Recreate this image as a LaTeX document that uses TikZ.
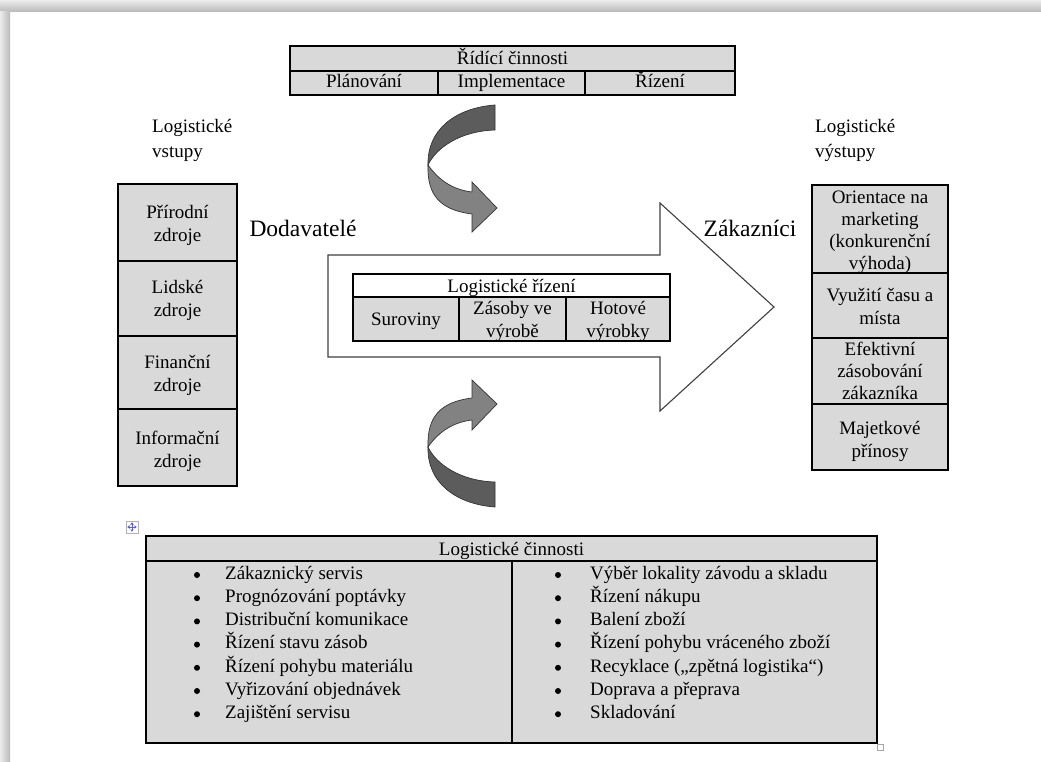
\documentclass[tikz,border=0pt]{standalone}
\usepackage{fontspec}
\setmainfont{Liberation Serif}
\newcommand\myfs{\fontsize{19}{23}\selectfont}
\newcommand\tightfs{\fontsize{19}{22}\selectfont}
\newcommand\bigfs{\fontsize{23.5}{28}\selectfont}
\definecolor{cellgray}{HTML}{D9D9D9}
\definecolor{darkband}{HTML}{5C5C5C}
\definecolor{midband}{HTML}{828282}
\begin{document}
\begin{tikzpicture}[x=1pt,y=-1pt,
  cell/.style={draw=black, line width=1.1pt, fill=cellgray, inner sep=0pt},
  wcell/.style={cell, fill=white},
  ctext/.style={inner sep=0pt, align=center, font=\myfs,
    execute at begin node=\strut, execute at end node=\strut},
  lbl/.style={inner sep=0pt, font=\fontsize{19}{25}\selectfont, align=left, anchor=north west},
  big/.style={inner sep=0pt, font=\bigfs},
  itm/.style={inner sep=0pt, font=\myfs, anchor=mid west},
  dot/.style={circle, fill=black, inner sep=0pt, minimum size=6pt},
  ribbon/.style={draw=black!80, line width=0.7pt}]

\useasboundingbox (0,0) rectangle (1041,762);
\fill[white] (0,0) rectangle (1041,762);
\shade[top color=gray!15, bottom color=gray!55] (0,0) rectangle (1041,12);
\shade[left color=gray!15, right color=gray!55] (0,12) rectangle (10,762);

% top table
\node[cell, minimum width=445pt, minimum height=25pt] (rc) at (512.5,58.5) {};
\node[cell, minimum width=148pt, minimum height=24pt] (rc1) at (364,83) {};
\node[cell, minimum width=147pt, minimum height=24pt] (rc2) at (511.5,83) {};
\node[cell, minimum width=150pt, minimum height=24pt] (rc3) at (660,83) {};
\node[ctext] (rct) at ([yshift=-1pt]rc.center) {Řídící činnosti};
\node[ctext] (rc1t) at (rc1.center) {Plánování};
\node[ctext] (rc2t) at (rc2.center) {Implementace};
\node[ctext] (rc3t) at (rc3.center) {Řízení};

% left labels and column
\node[lbl] (lv) at (152,119) {Logistické\\vstupy};
\node[cell, minimum width=119pt, minimum height=77pt] (z1) at (177.5,222.5) {};
\node[cell, minimum width=119pt, minimum height=75pt] (z2) at (177.5,298.5) {};
\node[cell, minimum width=119pt, minimum height=73pt] (z3) at (177.5,372.5) {};
\node[cell, minimum width=119pt, minimum height=77pt] (z4) at (177.5,447.5) {};
\node[ctext] (z1t) at ([yshift=-4.5pt]z1.center) {Přírodní\\zdroje};
\node[ctext] (z2t) at ([yshift=-3.5pt]z2.center) {Lidské\\zdroje};
\node[ctext] (z3t) at ([yshift=-4pt]z3.center) {Finanční\\zdroje};
\node[ctext] (z4t) at ([yshift=-5pt]z4.center) {Informační\\zdroje};

% right labels and column
\node[lbl] (lo) at (815,119) {Logistické\\výstupy};
\node[cell, minimum width=136pt, minimum height=88pt] (o1) at (880,229) {};
\node[cell, minimum width=136pt, minimum height=65pt] (o2) at (880,305.5) {};
\node[cell, minimum width=136pt, minimum height=66pt] (o3) at (880,371) {};
\node[cell, minimum width=136pt, minimum height=66pt] (o4) at (880,437) {};
\node[ctext, font=\tightfs] (o1t) at ([yshift=-5pt]o1.center) {Orientace na\\marketing\\(konkurenční\\výhoda)};
\node[ctext] (o2t) at ([yshift=-4.5pt]o2.center) {Využití času a\\místa};
\node[ctext, font=\tightfs] (o3t) at ([yshift=-3pt]o3.center) {Efektivní\\zásobování\\zákazníka};
\node[ctext] (o4t) at ([yshift=-6pt]o4.center) {Majetkové\\přínosy};

% big arrow
\draw[draw=black!75, line width=1.1pt, fill=white]
  (328,255) -- (660,255) -- (660,203) -- (774,307) -- (660,411) -- (660,357) -- (328,357) -- cycle;
\node[big] (dod) at (303,228) {Dodavatelé};
\node[big] (zak) at (750,228) {Zákazníci};

% middle table
\node[wcell, minimum width=317pt, minimum height=23pt] (lr) at (511.5,285.5) {};
\node[cell, minimum width=106pt, minimum height=44pt] (lr1) at (406,319) {};
\node[cell, minimum width=107pt, minimum height=44pt] (lr2) at (512.5,319) {};
\node[cell, minimum width=104pt, minimum height=44pt] (lr3) at (618,319) {};
\node[ctext] (lrt) at ([yshift=-2pt]lr.center) {Logistické řízení};
\node[ctext] (lr1t) at ([yshift=-2pt]lr1.center) {Suroviny};
\node[ctext] (lr2t) at ([yshift=-4pt]lr2.center) {Zásoby ve\\výrobě};
\node[ctext] (lr3t) at ([yshift=-4pt]lr3.center) {Hotové\\výrobky};

% curved arrow top
\filldraw[ribbon, fill=darkband] (495,105) .. controls (455,108) and (427,130) .. (428,165)
  .. controls (436,148) and (460,131) .. (495,130) -- cycle;
\filldraw[ribbon, fill=midband] (428,165) .. controls (440,182) and (455,190) .. (472,192)
  -- (472,182) -- (497,208) -- (472,232) -- (472,214)
  .. controls (440,210) and (427,195) .. (428,165) -- cycle;

% curved arrow bottom
\filldraw[ribbon, fill=darkband] (495,507) .. controls (455,504) and (427,482) .. (428,447)
  .. controls (436,464) and (460,481) .. (495,482) -- cycle;
\filldraw[ribbon, fill=midband] (428,447) .. controls (440,430) and (455,422) .. (472,420)
  -- (472,430) -- (497,404) -- (472,380) -- (472,398)
  .. controls (440,402) and (427,417) .. (428,447) -- cycle;

% bottom table
\node[draw=gray!60, fill=white, minimum size=12pt, inner sep=0pt] (mv) at (132,527) {};
\draw[blue!65, line width=0.7pt] ([yshift=-2pt]mv.north) -- ([yshift=2pt]mv.south)
  ([xshift=2pt]mv.west) -- ([xshift=-2pt]mv.east);
\fill[blue!65] ([yshift=-1.5pt]mv.north) -- ++(-1.8,2.2) -- ++(3.6,0) -- cycle
  ([yshift=1.5pt]mv.south) -- ++(-1.8,-2.2) -- ++(3.6,0) -- cycle
  ([xshift=1.5pt]mv.west) -- ++(2.2,-1.8) -- ++(0,3.6) -- cycle
  ([xshift=-1.5pt]mv.east) -- ++(-2.2,-1.8) -- ++(0,3.6) -- cycle;
\node[cell, minimum width=731pt, minimum height=25pt] (lc) at (511.5,548.5) {};
\node[ctext] (lct) at ([yshift=-2pt]lc.center) {Logistické činnosti};
\node[cell, minimum width=366pt, minimum height=182pt] (lcl) at (329,652) {};
\node[cell, minimum width=365pt, minimum height=182pt] (lcr) at (694.5,652) {};
\node[draw=gray!70, fill=white, minimum size=6pt, inner sep=0pt] (rs) at (880,747) {};

\foreach \t [count=\i] in {Zákaznický servis, Prognózování poptávky, Distribuční komunikace,
  Řízení stavu zásob, Řízení pohybu materiálu, Vyřizování objednávek, Zajištění servisu} {
  \node[dot] (bl\i) at (197,{575+23.2*(\i-1)}) {};
  \node[itm] (tl\i) at (225,{577+23.2*(\i-1)}) {\t};
}
\foreach \t [count=\i] in {Výběr lokality závodu a skladu, Řízení nákupu, Balení zboží,
  Řízení pohybu vráceného zboží, Recyklace („zpětná logistika“), Doprava a přeprava, Skladování} {
  \node[dot] (br\i) at (558,{575+23.2*(\i-1)}) {};
  \node[itm] (tr\i) at (590,{577+23.2*(\i-1)}) {\t};
}
\end{tikzpicture}
\end{document}
